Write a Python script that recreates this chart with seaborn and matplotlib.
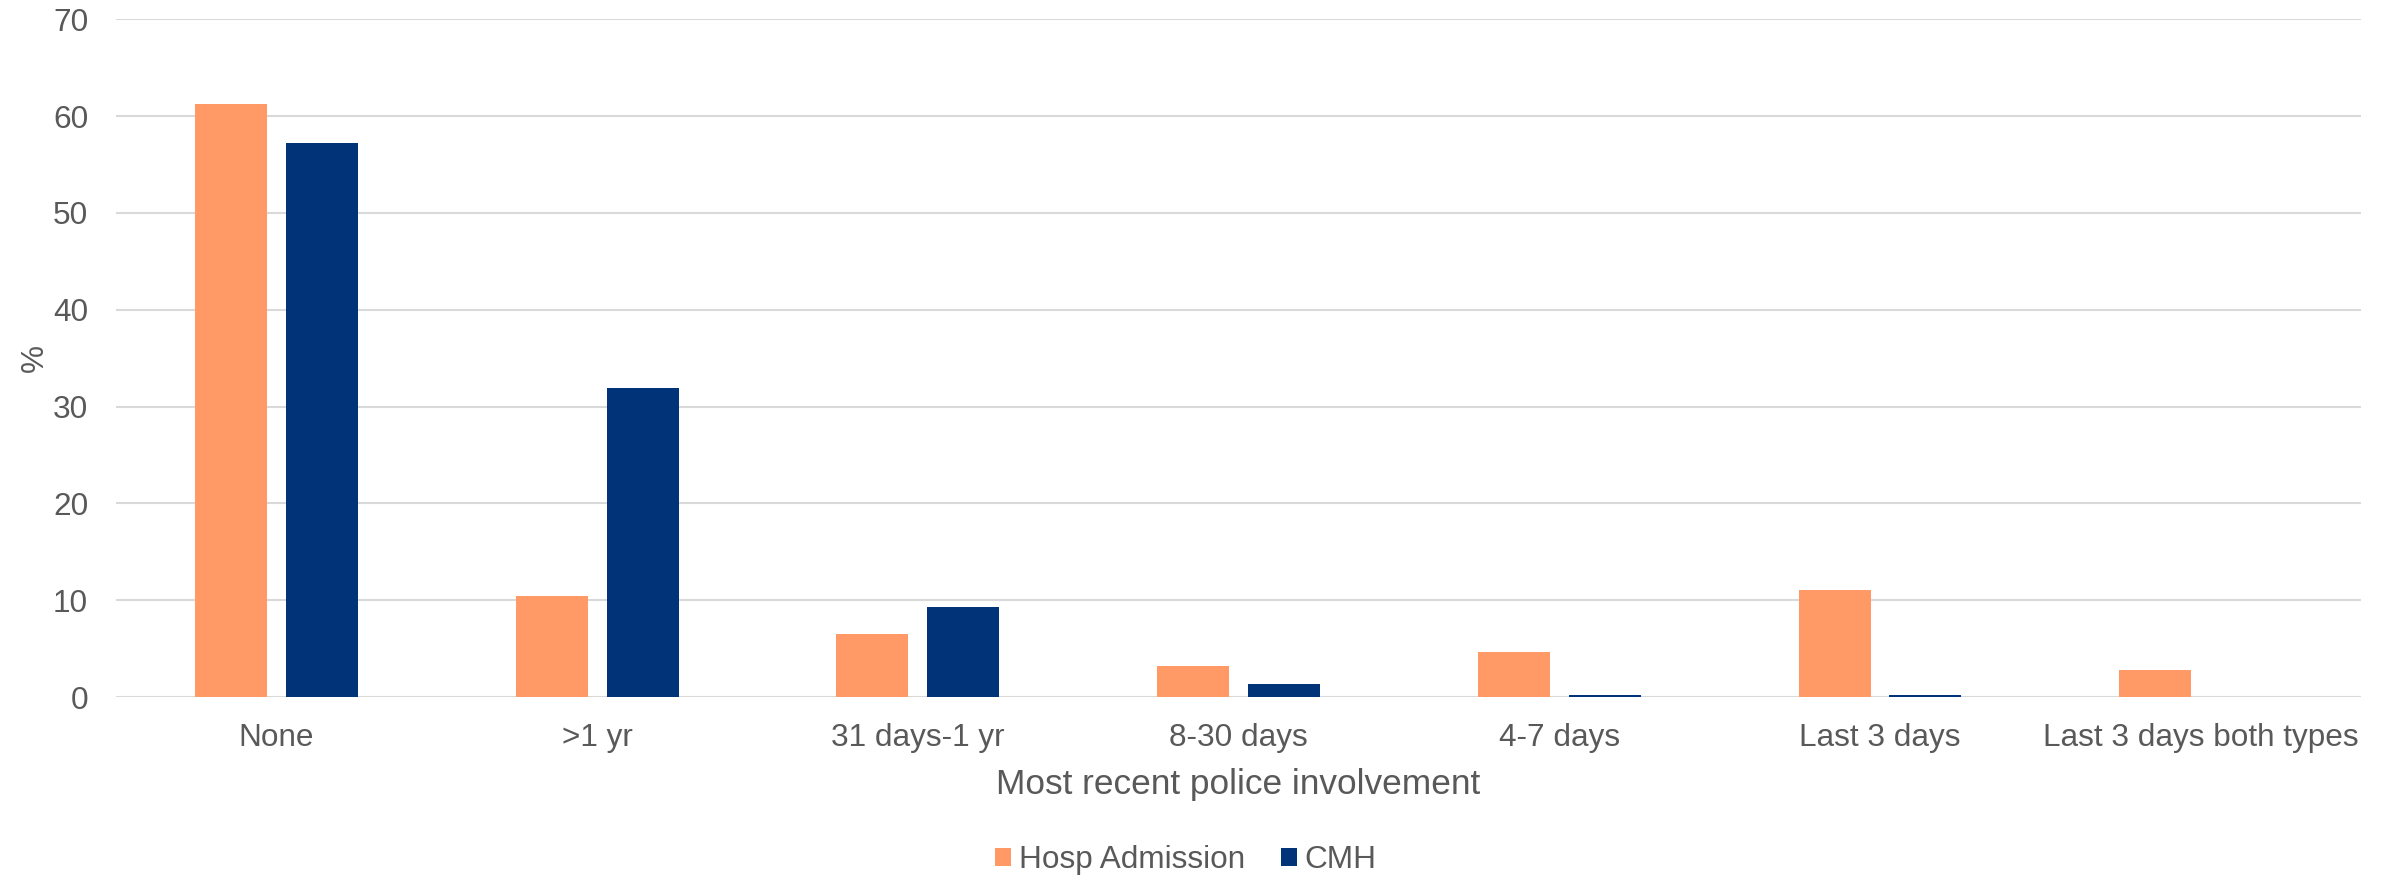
import matplotlib
matplotlib.use("Agg")
import matplotlib.pyplot as plt
from matplotlib.patches import Patch
import numpy as np
import pandas as pd
import seaborn as sns

# Most recent police involvement, share of people (%) by service type
categories = ["None", ">1 yr", "31 days-1 yr", "8-30 days", "4-7 days",
              "Last 3 days", "Last 3 days both types"]
hosp_admission = [61.3, 10.4, 6.5, 3.2, 4.7, 11.1, 2.8]
cmh = [57.2, 31.9, 9.3, 1.3, 0.2, 0.2, 0.0]
series_names = ["Hosp Admission", "CMH"]
y_ticks = [0, 10, 20, 30, 40, 50, 60, 70]

colors = {"Hosp Admission": "#FF9966", "CMH": "#003378"}
text_color = "#595959"
grid_color = "#D9D9D9"

df = pd.DataFrame({
    "category": categories * 2,
    "series": [series_names[0]] * len(categories) + [series_names[1]] * len(categories),
    "value": hosp_admission + cmh,
})

sns.set_theme(style="white")
plt.rcParams["font.family"] = ["Liberation Sans", "DejaVu Sans"]

fig = plt.figure(figsize=(23.91, 8.76), dpi=100)
ax = fig.add_axes([0.0485, 0.2043, 0.9390, 0.7737])

sns.barplot(data=df, x="category", y="value", hue="series",
            order=categories, hue_order=series_names, palette=colors,
            saturation=1, width=0.567, gap=0.208, errorbar=None, linewidth=0,
            legend=False, ax=ax)

ax.set_ylim(0, 70)
ax.set_yticks(y_ticks)
ax.set_xlim(-0.5, len(categories) - 0.5)
ax.set_axisbelow(True)
ax.yaxis.grid(True, color=grid_color, linewidth=1.5)
ax.xaxis.grid(False)
for side in ["top", "right", "left", "bottom"]:
    ax.spines[side].set_visible(False)

ax.tick_params(axis="both", length=0, labelsize=22.7, colors=text_color)
ax.tick_params(axis="x", pad=19)
ax.tick_params(axis="y", pad=20)

ax.set_xlabel("Most recent police involvement", fontsize=25.4, color=text_color)
ax.xaxis.set_label_coords(0.5, -0.1431)
ax.xaxis.label.set_verticalalignment("baseline")

ax.set_ylabel("%", fontsize=22.7, color=text_color)
ax.yaxis.set_label_coords(-0.036, 0.5)
ax.yaxis.label.set_verticalalignment("center")

handles = [Patch(facecolor=colors[s], edgecolor="none", label=s) for s in series_names]
fig.legend(handles=handles, loc="center", bbox_to_anchor=(0.496, 0.0183),
           ncol=2, frameon=False, fontsize=22.7, labelcolor=text_color,
           handlelength=0.51, handleheight=0.51, handletextpad=0.25,
           columnspacing=1.12, borderaxespad=0, borderpad=0)

fig.savefig("out.png", dpi=100, facecolor="white")
